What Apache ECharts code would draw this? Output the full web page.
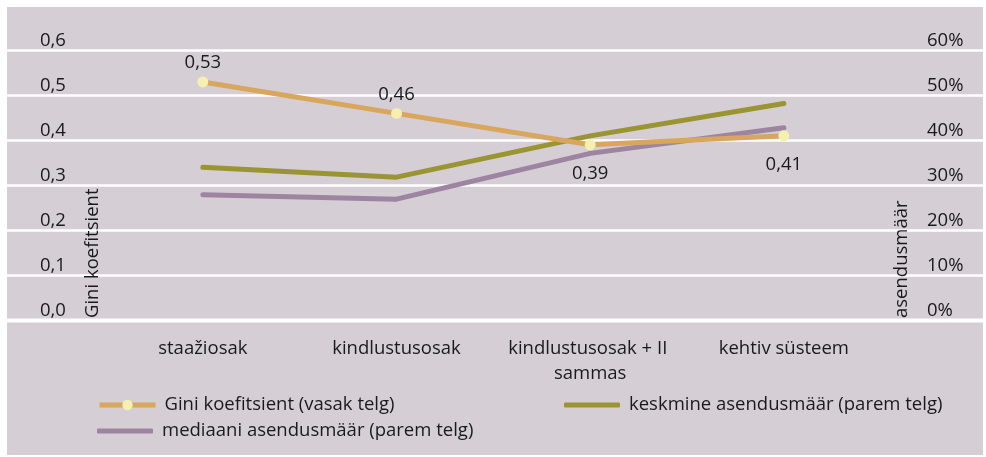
<!DOCTYPE html>
<html>
<head>
<meta charset="utf-8">
<script src="https://cdn.jsdelivr.net/npm/echarts@6/dist/echarts.min.js"></script>
<style>
  html, body { margin: 0; padding: 0; background: #fff; }
  #chart { position: absolute; left: 7px; top: 7px; width: 976px; height: 448px; }
</style>
</head>
<body>
<div id="chart"></div>
<script>
const categories = ['staažiosak', 'kindlustusosak', 'kindlustusosak + II sammas', 'kehtiv süsteem']
const gini = [0.53, 0.46, 0.39, 0.41]
const keskmine = [34.0, 31.8, 41.0, 48.2]
const mediaani = [27.9, 26.9, 37.1, 42.8]
const giniLabelPos = ['top', 'top', 'bottom', 'bottom']

const FONT = 'Open Sans'
const FS = 18.5
const TEXT = '#1a1a1a'

const chart = echarts.init(document.getElementById('chart'))

const legendText = { fontFamily: FONT, fontSize: FS, color: TEXT, lineHeight: 20, padding: [0, 0, 0, 4] }

const option = {
  backgroundColor: '#d5ced5',
  animation: false,
  textStyle: { fontFamily: FONT },
  grid: [
    { left: 0, right: 0, top: 43.5, bottom: 135 },
    { left: 99, right: 102.3, top: 43.5, bottom: 135 }
  ],
  legend: [
    {
      data: ['Gini koefitsient (vasak telg)'],
      left: 90, top: 388, padding: 0,
      itemWidth: 56, itemHeight: 13, itemGap: 0,
      lineStyle: { width: 5 },
      textStyle: legendText
    },
    {
      data: [{ name: 'keskmine asendusmäär (parem telg)', icon: 'roundRect' }],
      left: 557, top: 388, padding: 0,
      itemWidth: 56, itemHeight: 5,
      textStyle: legendText
    },
    {
      data: [{ name: 'mediaani asendusmäär (parem telg)', icon: 'roundRect' }],
      left: 90, top: 414, padding: 0,
      itemWidth: 56, itemHeight: 5,
      textStyle: legendText
    }
  ],
  xAxis: [
    { type: 'category', gridIndex: 0, show: false, data: categories },
    {
      type: 'category',
      gridIndex: 1,
      data: categories,
      axisLine: { show: false },
      axisTick: { show: false },
      axisLabel: {
        interval: 0,
        margin: 16,
        fontFamily: FONT,
        fontSize: FS,
        color: TEXT,
        lineHeight: 25,
        width: 185,
        overflow: 'break'
      }
    }
  ],
  yAxis: [
    {
      type: 'value', gridIndex: 0, position: 'left',
      min: 0, max: 0.6, interval: 0.1,
      axisLine: { show: false },
      axisTick: { show: false },
      splitLine: { lineStyle: { color: '#ffffff', width: 2.5 } },
      axisLabel: {
        inside: true, margin: 33,
        verticalAlign: 'bottom',
        fontFamily: FONT, fontSize: FS, color: TEXT,
        formatter: v => v.toFixed(1).replace('.', ',')
      }
    },
    {
      type: 'value', gridIndex: 0, position: 'right',
      min: 0, max: 60, interval: 10,
      axisLine: { show: false },
      axisTick: { show: false },
      splitLine: { show: false },
      axisLabel: {
        inside: true, margin: 56, align: 'left',
        verticalAlign: 'bottom',
        fontFamily: FONT, fontSize: FS, color: TEXT,
        formatter: v => v + '%'
      }
    },
    { type: 'value', gridIndex: 1, min: 0, max: 0.6, show: false },
    { type: 'value', gridIndex: 1, min: 0, max: 60, show: false }
  ],
  graphic: [
    {
      type: 'line',
      shape: { x1: 0, y1: 313.5, x2: 976, y2: 313.5 },
      style: { stroke: '#ffffff', lineWidth: 4 },
      z: 1
    },
    {
      type: 'text', x: 86, y: 311, rotation: Math.PI / 2, z: 100,
      style: { text: 'Gini koefitsient', fontFamily: FONT, fontSize: FS, fill: TEXT, align: 'left', verticalAlign: 'middle' }
    },
    {
      type: 'text', x: 895, y: 311, rotation: Math.PI / 2, z: 100,
      style: { text: 'asendusmäär', fontFamily: FONT, fontSize: FS, fill: TEXT, align: 'left', verticalAlign: 'middle' }
    }
  ],
  series: [
    {
      name: 'keskmine asendusmäär (parem telg)',
      type: 'line',
      xAxisIndex: 1, yAxisIndex: 3,
      data: keskmine,
      symbol: 'none',
      lineStyle: { color: '#9a9432', width: 5, cap: 'round' },
      itemStyle: { color: '#9a9432' },
      z: 3
    },
    {
      name: 'mediaani asendusmäär (parem telg)',
      type: 'line',
      xAxisIndex: 1, yAxisIndex: 3,
      data: mediaani,
      symbol: 'none',
      lineStyle: { color: '#9d84a0', width: 5, cap: 'round' },
      itemStyle: { color: '#9d84a0' },
      z: 3
    },
    {
      name: 'Gini koefitsient (vasak telg)',
      type: 'line',
      xAxisIndex: 1, yAxisIndex: 2,
      data: gini.map((v, i) => ({
        value: v,
        label: {
          position: giniLabelPos[i],
          distance: giniLabelPos[i] === 'top' ? 4 : 14
        }
      })),
      symbol: 'circle',
      symbolSize: 11,
      showAllSymbol: true,
      lineStyle: { color: '#d8a65d', width: 5 },
      itemStyle: { color: '#f5efb0', borderWidth: 0 },
      label: {
        show: true,
        fontFamily: FONT, fontSize: FS, color: TEXT,
        formatter: p => p.value.toFixed(2).replace('.', ',')
      },
      z: 4
    }
  ]
}

chart.setOption(option)
</script>
</body>
</html>
